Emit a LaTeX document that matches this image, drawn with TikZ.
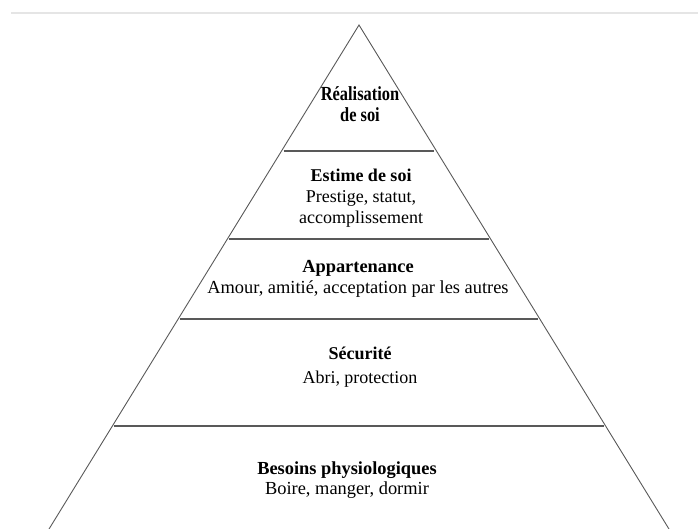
\documentclass[tikz,border=0pt]{standalone}
\usepackage{fontspec}
\setmainfont{Liberation Serif}
\newfontfamily\narrowserif[FakeStretch=0.82]{Liberation Serif}
\begin{document}
\begin{tikzpicture}[x=1pt, y=-1pt]
            \pgfmathsetmacro{\apx}{359};
            \pgfmathsetmacro{\apy}{25};
            \pgfmathsetmacro{\slope}{0.615};
            \useasboundingbox (0, 0) rectangle (698, 529);
            \draw [line width=1.4pt, black!10] (11, 13) -- (698, 13);
            \coordinate (apex) at (\apx, \apy);
            \coordinate (left) at ({\apx-\slope*(529-\apy)}, 529);
            \coordinate (right) at ({\apx+\slope*(529-\apy)}, 529);
            \draw [line width=0.9pt, black!65] (left) -- (apex) -- (right);
            \foreach \y in {151, 239, 319, 426}
                \draw [line width=1.4pt, black!65] ({\apx-\slope*(\y-\apy)+2}, \y) -- ({\apx+\slope*(\y-\apy)-2}, \y);
            \node (real) [align=center, inner sep=0, font=\narrowserif\fontsize{20}{21}\selectfont\bfseries] at (360, 104) {Réalisation\\de soi};
            \node (estime) [align=center, inner sep=0, font=\fontsize{18}{21}\selectfont] at (361, 198) {\textbf{Estime de soi}\\Prestige, statut,\\accomplissement};
            \node (appart) [align=center, inner sep=0, font=\fontsize{18.4}{21}\selectfont] at (358, 279) {\textbf{Appartenance}\\Amour, amitié, acceptation par les autres};
            \node (secu) [align=center, inner sep=0, font=\fontsize{18}{24}\selectfont] at (360, 367) {\textbf{Sécurité}\\Abri, protection};
            \node (besoins) [align=center, inner sep=0, font=\fontsize{18.4}{20}\selectfont] at (347, 480) {\textbf{Besoins physiologiques}\\Boire, manger, dormir};
        \end{tikzpicture}
\end{document}
